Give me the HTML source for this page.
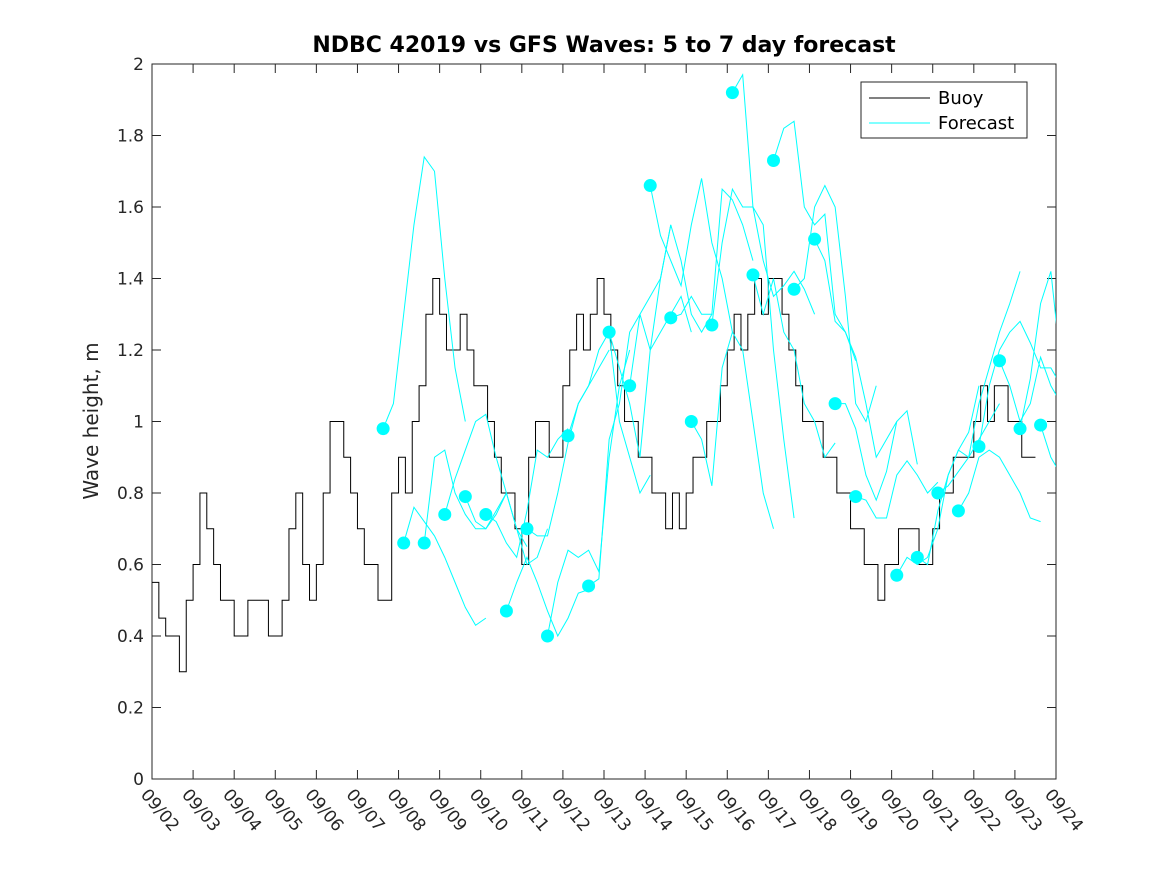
<!DOCTYPE html>
<html><head><meta charset="utf-8"><style>
body{margin:0;background:#fff;}
svg{display:block;font-family:"DejaVu Sans","Liberation Sans",sans-serif;}
</style></head><body>
<svg id="chart" width="1167" height="875">
<rect width="1167" height="875" fill="#fff"/>
<text x="604" y="52" text-anchor="middle" font-size="22" font-weight="bold" fill="#000">NDBC 42019 vs GFS Waves: 5 to 7 day forecast</text>
<text transform="translate(98,421) rotate(-90)" text-anchor="middle" font-size="20" fill="#262626">Wave height, m</text>
<defs><clipPath id="clip"><rect x="152" y="64" width="904" height="715"/></clipPath></defs>
<g id="axes"></g>
<g id="marks" clip-path="url(#clip)"></g>
<g>
<rect x="861" y="82" width="166" height="56" fill="#fff" stroke="#262626" stroke-width="1"/>
<line x1="869" y1="98" x2="930" y2="98" stroke="#000" stroke-width="1"/>
<text x="938" y="104" font-size="18" fill="#000">Buoy</text>
<line x1="869" y1="123" x2="930" y2="123" stroke="#00ffff" stroke-width="1"/>
<text x="938" y="129" font-size="18" fill="#000">Forecast</text>
</g>
</svg>
<script>
const xTickLabels=["09/02","09/03","09/04","09/05","09/06","09/07","09/08","09/09","09/10","09/11","09/12","09/13","09/14","09/15","09/16","09/17","09/18","09/19","09/20","09/21","09/22","09/23","09/24"];
const yTicks=[0,0.2,0.4,0.6,0.8,1,1.2,1.4,1.6,1.8,2];
const buoyStepDays=1/6;
const buoy=[0.55,0.45,0.4,0.4,0.3,0.5, 0.6,0.8,0.7,0.6,0.5,0.5, 0.4,0.4,0.5,0.5,0.5,0.4, 0.4,0.5,0.7,0.8,0.6,0.5,
0.6,0.8,1.0,1.0,0.9,0.8, 0.7,0.6,0.6,0.5,0.5,0.8, 0.9,0.8,1.0,1.1,1.3,1.4, 1.3,1.2,1.2,1.3,1.2,1.1,
1.1,1.0,0.9,0.8,0.8,0.7, 0.6,0.9,1.0,1.0,0.9,0.9, 1.1,1.2,1.3,1.2,1.3,1.4, 1.3,1.2,1.1,1.0,1.0,0.9,
0.9,0.8,0.8,0.7,0.8,0.7, 0.8,0.9,0.9,1.0,1.0,1.1, 1.2,1.3,1.2,1.3,1.4,1.3, 1.4,1.4,1.3,1.2,1.1,1.0,
1.0,1.0,0.9,0.9,0.8,0.8, 0.7,0.7,0.6,0.6,0.5,0.6, 0.6,0.7,0.7,0.7,0.6,0.6, 0.7,0.8,0.8,0.9,0.9,0.9,
1.0,1.1,1.0,1.1,1.1,1.0, 1.0,0.9,0.9];
const fcStepDays=0.25;
const fcStart=[5.625,6.125,6.625,7.125,7.625,8.125,8.625,9.125,9.625,10.125,10.625,11.125,11.625,12.125,12.625,13.125,13.625,14.125,14.625,15.125,15.625,16.125,16.625,17.125,18.125,18.625,19.125,19.625,20.125,20.625,21.125,21.625];
const fc=[
[0.98,1.05,1.3,1.55,1.74,1.7,1.4,1.15,1.0],
[0.66,0.76,0.72,0.68,0.62,0.55,0.48,0.43,0.45],
[0.66,0.9,0.92,0.8,0.74,0.7,0.7,0.75,0.8],
[0.74,0.84,0.92,1.0,1.02,0.9,0.8,0.7,0.65],
[0.79,0.72,0.7,0.74,0.8,0.7,0.6,0.62,0.7],
[0.74,0.72,0.66,0.62,0.75,0.92,0.9,0.95,0.98],
[0.47,0.55,0.62,0.55,0.47,0.40,0.45,0.52,0.53],
[0.70,0.68,0.68,0.8,0.94,1.05,1.1,1.15,1.2],
[0.40,0.55,0.64,0.62,0.64,0.58,0.9,1.1,1.2],
[0.96,1.05,1.1,1.2,1.25,1.0,0.9,0.8,0.85],
[0.54,0.56,0.95,1.05,1.25,1.3,1.35,1.4,1.55],
[1.25,1.15,1.05,0.9,1.2,1.25,1.3,1.35,1.25],
[1.10,1.3,1.2,1.4,1.55,1.45,1.3,1.25,1.3],
[1.66,1.52,1.45,1.38,1.55,1.68,1.5,1.4,1.25],
[1.29,1.3,1.35,1.3,1.3,1.65,1.62,1.55,1.45],
[1.00,0.95,0.82,1.15,1.25,1.2,1.0,0.8,0.7],
[1.27,1.5,1.65,1.6,1.6,1.55,1.2,0.95,0.73],
[1.92,1.97,1.6,1.45,1.35,1.38,1.42,1.37,1.3],
[1.41,1.3,1.4,1.25,1.2,1.05,1.0,0.9,0.94],
[1.73,1.82,1.84,1.6,1.55,1.58,1.30,1.25,1.17],
[1.37,1.4,1.6,1.66,1.6,1.35,1.05,1.0,1.1],
[1.51,1.45,1.28,1.25,1.18,1.05,0.9,0.95,1.0],
[1.05,1.05,0.98,0.85,0.78,0.86,1.0,1.03,0.88],
[0.79,0.78,0.73,0.73,0.85,0.89,0.85,0.8,0.83],
[0.57,0.62,0.60,0.62,0.70,0.85,0.92,0.97,1.1],
[0.62,0.6,0.75,0.85,0.92,0.90,0.95,1.0,1.05],
[0.80,0.82,0.86,0.90,1.05,1.15,1.25,1.33,1.42],
[0.75,0.8,0.9,0.92,0.9,0.85,0.80,0.73,0.72],
[0.93,1.1,1.2,1.25,1.28,1.22,1.15,1.15,1.1],
[1.17,1.1,1.0,1.05,1.18,1.1,1.05,0.97,0.91],
[0.98,1.12,1.33,1.42,1.15,1.05],
[0.99,0.9,0.85,0.8]];
const NS="http://www.w3.org/2000/svg";
const X0=152,X1=1056,Y0=779,Y1=64;
function xs(d){return X0+d*(X1-X0)/22;}
function ys(v){return Y0-v*(Y0-Y1)/2;}
function mk(t,a,p){const e=document.createElementNS(NS,t);for(const k in a)e.setAttribute(k,a[k]);p.appendChild(e);return e;}
const axes=document.getElementById('axes'),marks=document.getElementById('marks');
const box=mk('rect',{x:X0,y:Y1,width:X1-X0,height:Y0-Y1,fill:'none',stroke:'#262626','stroke-width':1},axes);


yTicks.forEach(v=>{
 const y=ys(v);
 mk('line',{x1:X0,y1:y,x2:X0+9,y2:y,stroke:'#262626'},axes);
 mk('line',{x1:X1,y1:y,x2:X1-9,y2:y,stroke:'#262626'},axes);
 const t=mk('text',{x:X0-8,y:y+6,'text-anchor':'end','font-size':17,fill:'#262626'},axes);
 t.textContent=String(v);
 
 
});
xTickLabels.forEach((s,i)=>{
 const x=xs(i);
 mk('line',{x1:x,y1:Y0,x2:x,y2:Y0-9,stroke:'#262626'},axes);
 mk('line',{x1:x,y1:Y1,x2:x,y2:Y1+9,stroke:'#262626'},axes);
 const t=mk('text',{transform:`translate(${x-12},${Y0+16}) rotate(50)`,'font-size':17,fill:'#262626'},axes);
 t.textContent=s;
 
 
});
let d='';
buoy.forEach((v,i)=>{const x0=xs(i*buoyStepDays),x1=xs((i+1)*buoyStepDays),y=ys(v);d+=(i?'L':'M')+x0+' '+y+'L'+x1+' '+y;});
const bl=mk('path',{d:d,fill:'none',stroke:'#000','stroke-width':1},marks);


fc.forEach((arr,k)=>{
 const pts=arr.map((v,i)=>xs(fcStart[k]+i*fcStepDays)+','+ys(v)).join(' ');
 const pl=mk('polyline',{points:pts,fill:'none',stroke:'#00ffff','stroke-width':1},marks);
 
 
});
fc.forEach((arr,k)=>{
 const c=mk('circle',{cx:xs(fcStart[k]),cy:ys(arr[0]),r:6.5,fill:'#00ffff'},marks);
 
 
});
</script>
</body></html>
